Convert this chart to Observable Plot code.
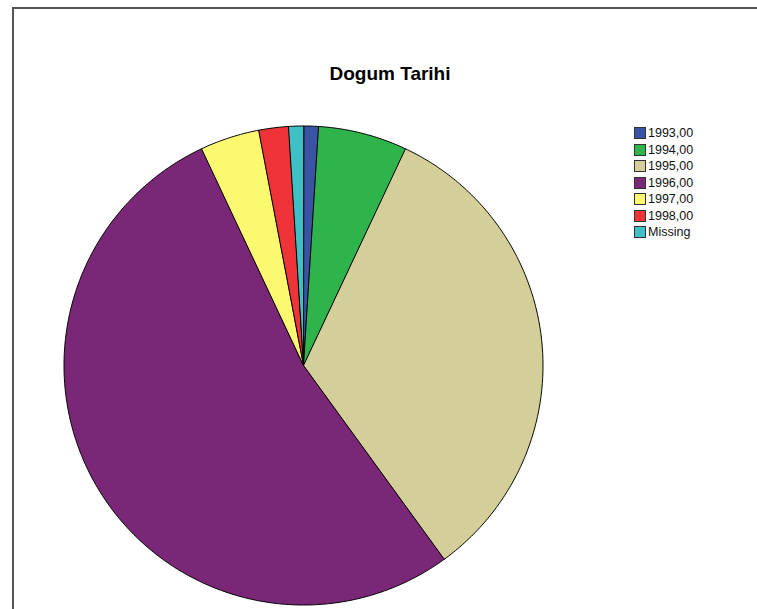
<!DOCTYPE html>
<html>
<head>
<meta charset="utf-8">
<script src="https://cdn.jsdelivr.net/npm/d3@7"></script>
<script src="https://cdn.jsdelivr.net/npm/@observablehq/plot@0.6"></script>
<style>
  html, body { margin: 0; padding: 0; background: #fff; }
  #wrap { position: relative; width: 757px; height: 609px; overflow: hidden; font-family: "Liberation Sans", Arial, sans-serif; }
  #border { position: absolute; left: 12px; top: 7px; width: 760px; height: 620px; border-left: 2px solid #555; border-top: 2px solid #555; box-sizing: border-box; }
  #title { position: absolute; left: 290px; width: 200px; top: 63px; text-align: center; font-weight: bold; font-size: 19px; color: #000; }
  #legend { position: absolute; left: 634px; top: 125px; font-size: 12.5px; color: #111; }
  .item { display: flex; align-items: center; height: 16.5px; }
  .sw { width: 10px; height: 10px; border: 1px solid #333; margin-right: 2px; }
  svg { position: absolute; left: 0; top: 0; }
</style>
</head>
<body>
<div id="wrap">
  <div id="border"></div>
  <div id="title">Dogum Tarihi</div>
  <div id="legend"></div>
</div>
<script>
const categories = ["1993,00", "1994,00", "1995,00", "1996,00", "1997,00", "1998,00", "Missing"];
const counts = [1, 6, 33, 53, 4, 2, 1];
const colors = ["#3a53a4", "#2fb44b", "#d4cf98", "#7a2777", "#fcf870", "#ee3339", "#3ec0c5"];

const W = 757, H = 609, cx = 303, cy = 365, R = 239.5;

const slices = d3.pie().sort(null).value(d => d.count)(categories.map((c, i) => ({cat: c, count: counts[i]})));
const pts = [];
for (const s of slices) {
  const cat = s.data.cat;
  pts.push({cat, x: 0, y: 0});
  const n = Math.max(4, Math.ceil((s.endAngle - s.startAngle) / 0.01));
  for (let k = 0; k <= n; k++) {
    const a = s.startAngle + (s.endAngle - s.startAngle) * k / n;
    pts.push({cat, x: Math.sin(a), y: Math.cos(a)});
  }
}

const chart = Plot.plot({
  width: W, height: H,
  marginTop: 0, marginRight: 0, marginBottom: 0, marginLeft: 0,
  x: {domain: [-cx / R, (W - cx) / R], axis: null},
  y: {domain: [-(H - cy) / R, cy / R], axis: null},
  color: {domain: categories, range: colors},
  style: {background: "transparent"},
  marks: [
    Plot.line(pts, {x: "x", y: "y", z: "cat", fill: "cat", stroke: "#000", strokeWidth: 1, curve: "linear-closed", strokeLinejoin: "round"})
  ]
});
document.getElementById("wrap").appendChild(chart);

const legend = document.getElementById("legend");
categories.forEach((c, i) => {
  const it = document.createElement("div");
  it.className = "item";
  const sw = document.createElement("div");
  sw.className = "sw";
  sw.style.background = colors[i];
  const t = document.createElement("span");
  t.textContent = c;
  it.appendChild(sw); it.appendChild(t);
  legend.appendChild(it);
});
</script>
</body>
</html>
